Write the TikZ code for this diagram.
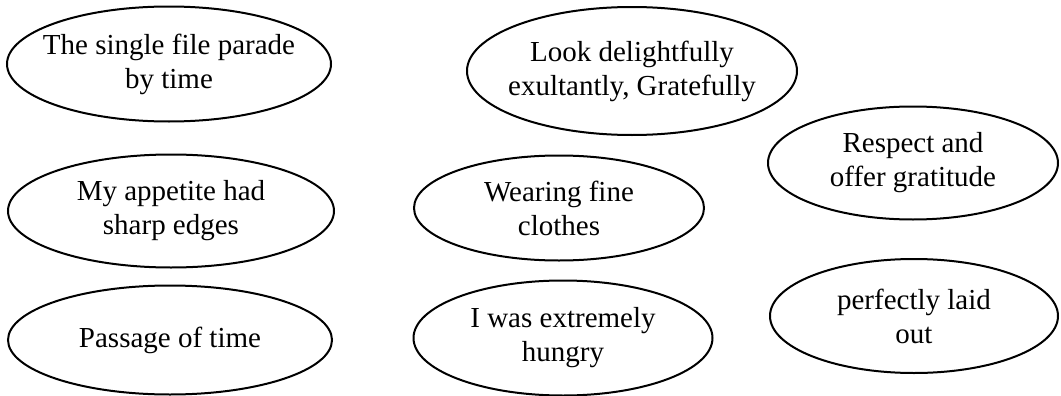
\documentclass[tikz,border=0pt]{standalone}
\usepackage{fontspec}
\setmainfont{Liberation Serif}
\usetikzlibrary{shapes.geometric}
\tikzset{
  bubble/.style={draw, ellipse, line width=1pt, inner xsep=-12pt, inner ysep=0pt,
    align=center, font=\fontsize{14.5}{17}\selectfont},
}
\begin{document}
\begin{tikzpicture}[x=0.5pt,y=-0.5pt]
  \useasboundingbox (0,0) rectangle (1061,396);
  \node[bubble, minimum width=162pt, minimum height=57.5pt] (parade) at (169,64)
    {The single file parade\\by time};
  \node[bubble, minimum width=165pt, minimum height=64pt] (delight) at (632,71)
    {Look delightfully\\exultantly, Gratefully};
  \node[bubble, minimum width=145pt, minimum height=56.5pt] (respect) at (913,163)
    {Respect and\\offer gratitude};
  \node[bubble, minimum width=163pt, minimum height=56.5pt] (appetite) at (171,211)
    {My appetite had\\sharp edges};
  \node[bubble, minimum width=145pt, minimum height=52.5pt] (wearing) at (559,208)
    {Wearing fine\\clothes};
  \node[bubble, minimum width=162pt, minimum height=54.5pt] (passage) at (170,340)
    {Passage of time};
  \node[bubble, minimum width=149.5pt, minimum height=57.5pt] (hungry) at (563,338)
    {I was extremely\\hungry};
  \node[bubble, minimum width=144pt, minimum height=57pt] (laidout) at (914,316)
    {perfectly laid\\out};
\end{tikzpicture}
\end{document}
